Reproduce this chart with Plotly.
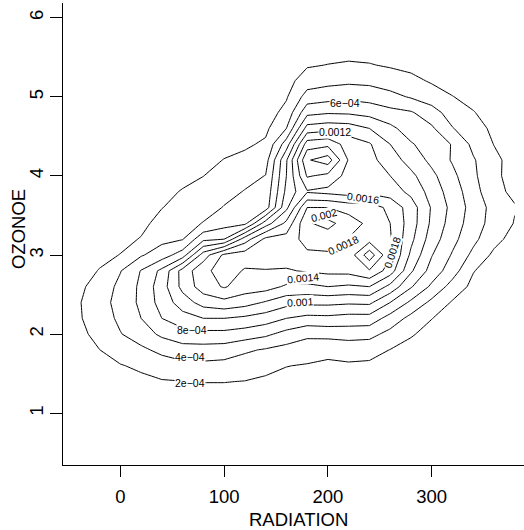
import numpy as np
import plotly.graph_objects as go

# grid of the 2-D density estimate (values in units of 1e-4)
radiation = [-40, -20, 0, 20, 40, 60, 80, 100, 120, 140, 160, 180, 200, 220, 240, 260, 280, 300, 320, 340, 360, 380]
ozone = [1.2, 1.4, 1.6, 1.8, 2.0, 2.2, 2.4, 2.6, 2.8, 3.0, 3.2, 3.4, 3.6, 3.8, 4.0, 4.2, 4.4, 4.6, 4.8, 5.0, 5.2, 5.4, 5.6, 5.8]

density_e4 = [
    [0.3, 0.6, 0.8, 1.0, 1.1, 1.2, 1.3, 1.3, 1.2, 1.1, 0.9, 0.8, 0.7, 0.7, 0.6, 0.4, 0.25, 0.15, 0.1, 0.1, 0.05, 0.05],
    [0.5, 1.0, 1.4, 1.6, 1.85, 1.95, 2.05, 2.05, 1.95, 1.7, 1.4, 1.2, 1.0, 1.0, 0.9, 0.6, 0.4, 0.25, 0.15, 0.1, 0.05, 0.05],
    [0.8, 1.5, 1.9, 2.3, 3.0, 3.4, 3.5, 3.35, 3.0, 2.5, 2.05, 1.85, 1.6, 1.75, 1.6, 1.2, 0.8, 0.5, 0.3, 0.15, 0.1, 0.05],
    [1.2, 1.98, 2.8, 3.6, 4.5, 5.2, 5.2, 5.05, 4.3, 3.8, 3.3, 3.0, 2.6, 2.8, 2.8, 1.95, 1.3, 0.8, 0.5, 0.3, 0.15, 0.1],
    [1.5, 2.6, 3.9, 5.0, 6.4, 7.2, 7.4, 7.4, 7.0, 6.4, 5.3, 4.4, 4.6, 4.8, 4.6, 3.4, 2.2, 1.3, 0.7, 0.4, 0.2, 0.1],
    [1.8, 3.0, 4.4, 6.0, 8.0, 9.2, 10.0, 10.0, 9.6, 9.0, 8.0, 7.4, 7.5, 7.2, 7.2, 5.2, 3.4, 2.05, 1.1, 0.6, 0.3, 0.15],
    [1.85, 3.2, 4.7, 6.4, 8.8, 11.0, 12.8, 13.4, 12.8, 11.8, 10.7, 10.5, 10.5, 10.3, 10.4, 8.0, 5.6, 3.5, 1.8, 0.9, 0.4, 0.2],
    [1.6, 2.8, 4.5, 6.4, 9.1, 12.6, 15.0, 16.2, 15.0, 14.8, 13.7, 13.5, 14.0, 13.7, 14.0, 11.4, 8.2, 5.6, 3.2, 1.5, 0.7, 0.3],
    [1.2, 2.1, 3.9, 6.1, 8.5, 12.8, 15.4, 17.0, 15.8, 15.9, 15.8, 16.2, 16.5, 16.6, 17.8, 15.0, 10.3, 7.2, 4.9, 2.1, 1.0, 0.5],
    [0.9, 1.5, 2.05, 3.8, 5.0, 7.0, 13.0, 16.4, 17.0, 17.0, 17.0, 17.6, 17.7, 16.8, 21.2, 16.3, 11.6, 8.1, 5.8, 3.5, 1.6, 0.8],
    [0.6, 1.1, 1.5, 2.1, 3.5, 3.9, 7.5, 8.0, 13.0, 16.5, 16.8, 18.8, 19.0, 17.9, 17.2, 16.2, 12.5, 9.0, 6.6, 4.5, 2.6, 1.3],
    [0.4, 0.8, 1.1, 1.55, 2.6, 3.2, 4.1, 5.2, 5.5, 11.0, 14.5, 19.8, 20.6, 19.0, 17.5, 16.0, 13.0, 9.6, 7.1, 5.0, 3.2, 1.9],
    [0.3, 0.5, 0.8, 1.15, 1.95, 2.6, 3.2, 4.1, 4.6, 5.0, 11.5, 18.0, 18.0, 17.2, 17.0, 15.5, 13.0, 9.8, 7.4, 5.2, 3.3, 2.1],
    [0.2, 0.35, 0.5, 0.85, 1.6, 2.1, 2.6, 3.4, 4.1, 4.6, 10.5, 13.8, 13.4, 13.0, 13.5, 13.0, 11.5, 9.2, 7.0, 4.9, 2.4, 1.7],
    [0.1, 0.25, 0.35, 0.6, 1.2, 1.6, 1.98, 2.7, 3.4, 4.05, 10.0, 16.2, 15.5, 13.2, 12.8, 12.0, 10.5, 8.5, 6.5, 4.4, 2.4, 1.3],
    [0.1, 0.2, 0.25, 0.45, 0.9, 1.2, 1.5, 2.05, 2.5, 3.2, 9.8, 17.8, 19.0, 13.8, 12.6, 11.0, 9.2, 7.5, 5.8, 4.2, 2.5, 1.2],
    [0.1, 0.1, 0.2, 0.35, 0.7, 0.9, 1.1, 1.5, 1.7, 2.3, 7.0, 15.0, 15.5, 13.0, 12.2, 10.0, 8.2, 7.0, 5.9, 3.5, 1.95, 1.0],
    [0.1, 0.1, 0.1, 0.25, 0.5, 0.7, 0.8, 1.1, 1.2, 1.6, 4.0, 10.8, 11.2, 11.0, 10.0, 8.5, 7.0, 6.3, 4.1, 2.8, 1.6, 0.8],
    [0.05, 0.1, 0.1, 0.2, 0.35, 0.5, 0.6, 0.8, 0.9, 1.1, 2.6, 7.4, 7.8, 7.7, 7.3, 6.6, 6.2, 4.9, 3.0, 2.1, 1.2, 0.6],
    [0.05, 0.05, 0.1, 0.1, 0.25, 0.35, 0.4, 0.6, 0.65, 0.8, 1.8, 4.8, 5.2, 5.5, 5.2, 4.6, 3.8, 2.9, 2.05, 1.4, 0.8, 0.4],
    [0.05, 0.05, 0.05, 0.1, 0.15, 0.25, 0.3, 0.4, 0.45, 0.55, 1.3, 3.0, 3.4, 3.6, 3.5, 3.0, 2.5, 1.8, 1.3, 0.9, 0.5, 0.3],
    [0.05, 0.05, 0.05, 0.05, 0.1, 0.15, 0.2, 0.3, 0.3, 0.4, 0.9, 1.8, 2.05, 2.2, 2.1, 1.8, 1.5, 1.1, 0.8, 0.5, 0.3, 0.2],
    [0.05, 0.05, 0.05, 0.05, 0.05, 0.1, 0.1, 0.2, 0.2, 0.3, 0.6, 1.1, 1.2, 1.4, 1.3, 1.1, 0.9, 0.7, 0.5, 0.3, 0.2, 0.1],
    [0.05, 0.05, 0.05, 0.05, 0.05, 0.05, 0.05, 0.1, 0.1, 0.2, 0.4, 0.7, 0.8, 0.9, 0.8, 0.7, 0.55, 0.4, 0.3, 0.2, 0.1, 0.05],
]

# contour labels as printed by R
label_text = ["2e\u221204", "4e\u221204", "8e\u221204", "0.001", "0.0014", "0.0018", "0.002", "0.0016", "0.0018", "6e\u221204", "0.0012"]
label_x = [67, 67, 69, 173, 176, 215, 196, 234, 261.5, 216.5, 207]
label_y = [1.385, 1.713, 2.054, 2.41, 2.71, 3.13, 3.50, 3.72, 3.03, 4.92, 4.56]
label_angle = [0, 0, 0, -3, -5, -25, -15, 8, -72, 0, 0]

x_ticks = [0, 100, 200, 300]
y_ticks = [1, 2, 3, 4, 5, 6]

z = np.array(density_e4) * 1e-4

FONT = "Liberation Sans, Arial, Helvetica, sans-serif"

fig = go.Figure()
fig.add_trace(go.Contour(
    x=radiation, y=ozone, z=z,
    autocontour=False,
    contours=dict(coloring="none", start=0.0002, end=0.002, size=0.0002, showlabels=False),
    line=dict(color="black", width=1, smoothing=0),
    showscale=False, hoverinfo="skip",
))

annotations = []
for t, xx, yy, a in zip(label_text, label_x, label_y, label_angle):
    annotations.append(dict(
        x=xx, y=yy, xref="x", yref="y", text=t, showarrow=False, textangle=a,
        font=dict(family=FONT, size=10.5, color="black"),
        bgcolor="white", borderpad=0,
    ))

annotations.append(dict(
    xref="paper", yref="paper", x=(298 - 63) / 461, y=-(519 - 465) / 461,
    text="RADIATION", showarrow=False, xanchor="center", yanchor="middle",
    font=dict(family=FONT, size=18.5, color="black"),
))
annotations.append(dict(
    xref="paper", yref="paper", x=-(63 - 18.5) / 461, y=(465 - 230) / 461,
    text="OZONOE", showarrow=False, xanchor="center", yanchor="middle", textangle=-90,
    font=dict(family=FONT, size=18.5, color="black"),
))

fig.update_layout(
    width=524, height=530,
    margin=dict(l=63, r=0, t=3, b=65),
    paper_bgcolor="white", plot_bgcolor="white",
    showlegend=False,
    annotations=annotations,
    font=dict(family=FONT, size=18.5, color="black"),
)
fig.update_xaxes(
    range=[-55.2, 388.9], tickvals=x_ticks, ticktext=[str(v) for v in x_ticks],
    showgrid=False, zeroline=False, showline=True, linecolor="black", linewidth=1,
    ticks="outside", ticklen=11, tickwidth=1, tickcolor="black",
    tickfont=dict(family=FONT, size=18.5, color="black"), ticklabelstandoff=4,
)
fig.update_yaxes(
    range=[0.346, 6.185], tickvals=y_ticks, ticktext=[str(v) for v in y_ticks],
    showgrid=False, zeroline=False, showline=True, linecolor="black", linewidth=1,
    ticks="outside", ticklen=12, tickwidth=1, tickcolor="black", tickangle=-90,
    tickfont=dict(family=FONT, size=18.5, color="black"), ticklabelstandoff=0,
)

fig.write_html("out.html")
